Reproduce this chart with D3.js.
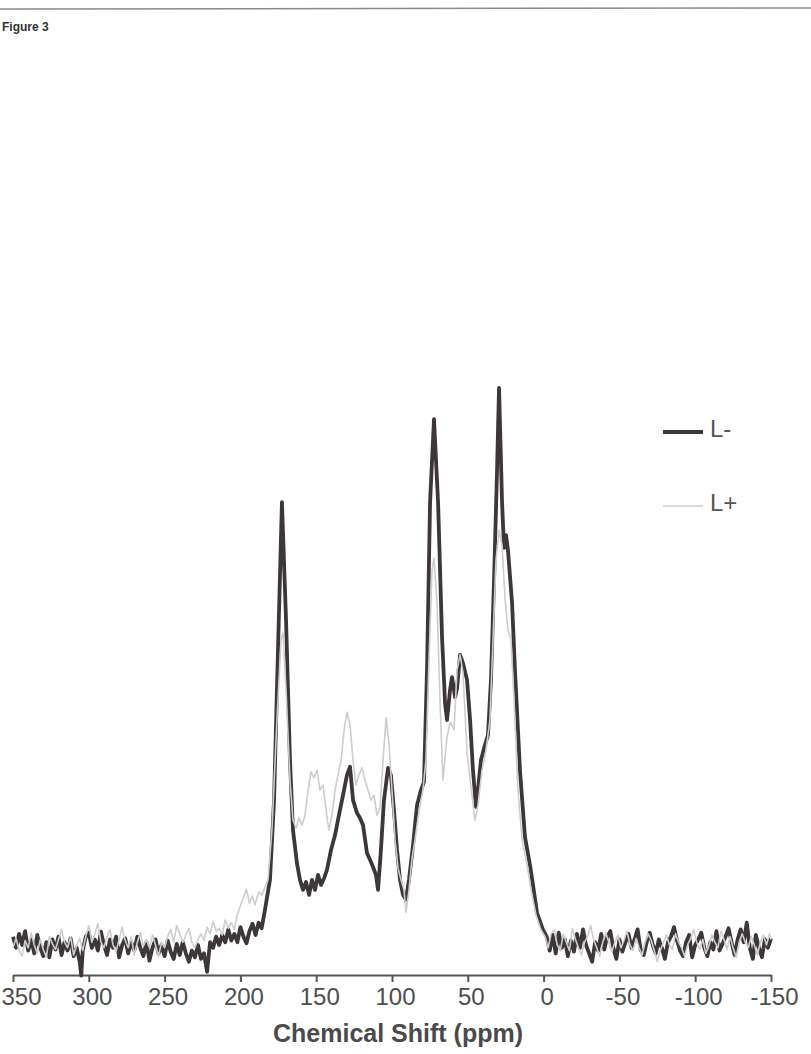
<!DOCTYPE html>
<html>
<head>
<meta charset="utf-8">
<script src="https://cdn.jsdelivr.net/npm/d3@7"></script>
<style>
  body { margin: 0; background: #fff; }
  svg { display: block; }
</style>
</head>
<body>
<div id="chart"></div>
<script>
// [chemical shift (ppm), intensity (a.u., tallest peak = 100)]
var darkSpectrum = [
  [350,1.5],[348,-0.5],[346,2.0],[344,0.0],[342,2.5],[340,-1.0],[338,1.0],[336,-1.5],[334,1.8],[332,-0.5],
  [330,-2.0],[328,0.5],[326,-2.2],[324,1.0],[322,-0.8],[320,1.5],[318,-1.8],[316,0.5],[314,-1.0],[312,1.2],
  [310,-2.0],[308,-0.5],[306,-3.0],[305,-5.5],[304,-1.0],[302,1.5],[300,2.2],[298,-0.5],[296,1.0],[294,-1.0],
  [292,2.4],[290,0.0],[288,-1.8],[286,1.0],[284,-0.5],[282,1.5],[280,-2.2],[278,0.0],[276,1.2],[274,-1.5],
  [272,0.5],[270,-1.0],[268,1.5],[266,-0.5],[264,-2.0],[262,0.5],[260,-2.8],[258,-0.5],[256,1.0],[254,-1.5],
  [252,0.0],[250,-2.0],[248,0.8],[246,-1.2],[244,-2.5],[242,0.2],[240,-1.8],[238,0.5],[236,-1.5],[234,-3.0],
  [232,-1.0],[230,-2.2],[228,0.0],[226,-2.5],[224,-1.5],[222,-4.8],[220,0.5],[218,-0.5],[216,1.5],[214,0.0],
  [212,1.8],[210,0.5],[208,2.8],[206,0.8],[204,2.0],[202,0.5],[200,3.2],[198,1.5],[196,0.3],[194,2.5],
  [192,3.8],[190,1.8],[188,4.0],[186,3.0],
  [183.8,6.3],[180.5,11.7],[177.8,26],[175.2,53],[172.6,79.5],[169.9,58.3],[167.3,33.2],[165.3,20.6],
  [162.7,14.7],[160.7,11.7],[158.7,9.9],[156.7,11.3],[154.7,9.0],[152.8,11.7],[150.8,9.9],[148.8,12.6],
  [146.8,10.8],[144.8,12.0],[142.9,13.5],[140.2,17.1],[137.6,19.7],[135.0,23.3],[132.3,26.9],[129.7,30.5],
  [127.7,32.0],[125.7,26.0],[123.1,23.7],[121.1,22.8],[119.1,21.5],[116.5,16.5],[114.5,15.3],[112.5,14.0],
  [110.6,12.6],[109.2,9.9],[107.3,17.1],[105.3,26.0],[102.6,31.8],[100.7,30.5],[98.7,24.2],[96.7,17.1],
  [94.7,11.7],[92.7,9.0],[90.8,8.1],[88.8,11.7],[86.1,18.0],[83.5,25.1],[80.9,27.8],[78.9,29.3],
  [76.9,49.4],[74.9,79.4],[72.3,94.4],[69.6,79.4],[67.0,55.3],[65.0,43.4],[63.7,40.4],[61.7,45.8],
  [60.4,48.1],[58.4,44.5],[57.1,46.1],[55.1,52.1],[53.2,50.6],[50.5,47.6],[48.5,40.4],[46.6,31.4],
  [44.6,24.8],[43.3,27.8],[41.3,33.2],[38.7,35.9],[36.7,37.7],[34.7,47.6],[32.7,65.5],[30.7,85.3],
  [29.4,100],[27.4,79.4],[26.1,71.3],[24.8,73.6],[23.5,70.9],[20.8,61.4],[18.9,49.4],[15.6,31.4],
  [12.3,19.4],[9.0,14.4],[7.0,10.8],[4.3,5.7],[0.4,2.7],
  [-2,1.5],[-4,-1.0],[-6,1.8],[-8,-1.5],[-10,2.2],[-12,-0.5],[-14,1.0],[-16,-2.0],[-18,0.8],[-20,-1.2],
  [-22,2.0],[-24,-0.5],[-26,2.8],[-28,0.0],[-30,-1.5],[-32,-3.0],[-34,0.5],[-36,-1.0],[-38,2.0],[-40,-0.8],
  [-42,1.5],[-44,2.5],[-46,-0.5],[-48,-2.5],[-50,1.0],[-52,-1.2],[-54,0.5],[-56,2.0],[-58,-0.5],[-60,1.0],
  [-62,2.8],[-64,-0.8],[-66,-1.8],[-68,0.5],[-70,2.2],[-72,0.0],[-74,-1.5],[-76,1.0],[-78,-0.5],[-80,-2.5],
  [-82,0.5],[-84,1.5],[-86,3.2],[-88,0.8],[-90,-1.0],[-92,-2.0],[-94,0.5],[-96,1.8],[-98,-2.2],[-100,0.0],
  [-102,1.0],[-104,2.2],[-106,-0.5],[-108,-2.0],[-110,0.5],[-112,-0.8],[-114,2.5],[-116,-1.0],[-118,0.2],[-120,1.5],
  [-122,3.0],[-124,0.5],[-126,-1.8],[-128,1.0],[-130,2.8],[-132,0.5],[-134,4.0],[-136,-0.5],[-138,-2.5],[-140,1.8],
  [-142,-0.5],[-144,-2.2],[-146,1.0],[-148,-0.5],[-150,1.2]
];

var lightSpectrum = [
  [350,-0.5],[348,1.2],[346,-1.0],[344,-2.0],[342,0.8],[340,-0.5],[338,2.2],[336,0.0],[334,-1.5],[332,1.0],
  [330,-0.8],[328,-2.2],[326,1.5],[324,0.2],[322,-0.8],[320,1.0],[318,2.8],[316,0.5],[314,-0.5],[312,1.5],
  [310,-1.8],[308,0.0],[306,1.2],[304,-1.0],[302,1.5],[300,3.5],[298,0.5],[296,2.0],[294,3.8],[292,0.5],
  [290,-0.5],[288,1.5],[286,2.8],[284,0.0],[282,-1.2],[280,1.0],[278,3.2],[276,0.8],[274,-0.5],[272,1.5],
  [270,-1.8],[268,0.5],[266,2.2],[264,-0.2],[262,1.0],[260,-0.5],[258,1.8],[256,0.0],[254,-2.0],[252,0.5],
  [250,-0.5],[248,1.5],[246,2.8],[244,0.5],[242,3.5],[240,2.0],[238,0.5],[236,1.8],[234,3.0],[232,0.5],
  [230,-0.5],[228,1.0],[226,2.0],[224,0.8],[222,3.2],[220,2.0],[218,4.2],[216,2.5],[214,3.0],[212,1.8],
  [210,4.5],[208,3.0],[206,4.0],[204,2.8],[202,5.5],[200,7.0],[198,8.5],[196,10.0],[194,7.5],[192,8.8],
  [190.4,7.2],[188,9.5],[185.8,9.0],[181.8,11.7],[179.2,20.6],[175.9,40.4],[173.2,54.8],[171.9,56.0],
  [169.9,45.8],[167.3,29.6],[165.3,22.4],[163.3,21.0],[161.3,22.8],[159.4,21.5],[157.4,23.3],[155.4,27.8],
  [153.4,31.1],[151.5,30.0],[149.5,31.4],[147.5,27.8],[145.5,28.7],[143.5,24.2],[141.6,20.6],[139.6,23.3],
  [137.6,27.8],[135.6,30.5],[133.6,33.2],[131.6,38.6],[129.7,41.8],[127.7,39.5],[125.7,33.2],[123.7,28.7],
  [121.8,30.5],[119.8,31.8],[117.8,29.6],[115.8,27.8],[113.9,26.0],[111.9,26.9],[109.9,23.3],[107.9,24.6],
  [105.9,33.2],[103.9,40.8],[101.9,35.9],[100.0,27.8],[98.0,18.9],[96.0,13.8],[94.1,11.7],[92.1,9.9],
  [90.8,5.9],[88.8,9.9],[86.8,15.6],[84.8,18.9],[82.1,24.2],[79.6,27.8],[77.6,33.2],[75.6,51.2],
  [73.6,67.3],[72.3,69.5],[70.3,61.4],[68.3,43.4],[66.4,29.6],[63.7,37.3],[61.7,40.0],[59.1,38.6],
  [57.1,49.4],[55.1,52.1],[53.2,49.0],[50.5,34.5],[47.9,28.4],[45.3,22.4],[43.3,25.1],[40.6,31.4],
  [38.0,35.0],[35.4,40.4],[33.4,54.8],[31.4,69.1],[29.4,74.5],[27.4,71.8],[25.4,61.9],[23.5,56.6],
  [21.5,54.8],[19.5,44.0],[16.9,27.8],[14.2,18.9],[10.9,14.4],[8.3,9.9],[5.0,5.4],[1.7,2.7],
  [-1,1.5],[-3,-0.5],[-5,2.0],[-7,2.8],[-9,0.0],[-11,-1.0],[-13,2.0],[-15,0.5],[-17,-1.0],[-19,3.0],
  [-21,1.0],[-23,-0.5],[-25,-1.8],[-27,0.5],[-29,1.5],[-31,3.5],[-33,1.0],[-35,-0.5],[-37,-2.0],[-39,0.5],
  [-41,2.2],[-43,0.5],[-45,-1.2],[-47,0.5],[-49,1.8],[-51,-0.5],[-53,0.8],[-55,2.5],[-57,0.0],[-59,-1.0],
  [-61,1.2],[-63,-0.5],[-65,-1.8],[-67,0.5],[-69,2.0],[-71,0.8],[-73,-1.0],[-75,-3.0],[-77,-1.0],[-79,0.5],
  [-81,1.8],[-83,0.0],[-85,-0.8],[-87,2.0],[-89,0.5],[-91,-0.5],[-93,-2.0],[-95,0.0],[-97,1.2],[-99,2.8],
  [-101,0.5],[-103,-0.8],[-105,1.0],[-107,-1.5],[-109,-0.2],[-111,1.8],[-113,0.5],[-115,-0.5],[-117,2.5],[-119,1.0],
  [-121,-0.8],[-123,1.5],[-125,-0.5],[-127,-2.2],[-129,0.5],[-131,2.0],[-133,0.5],[-135,-0.5],[-137,1.5],[-139,0.0],
  [-141,-1.8],[-143,0.5],[-145,1.8],[-147,0.0],[-149,2.0],[-150,1.0]
];

var tickValues = [350, 300, 250, 200, 150, 100, 50, 0, -50, -100, -150];
var seriesNames = ["L-", "L+"];
var seriesColors = ["#3e373a", "#cdcdcd"];

function chart(){
  var width = 811, height = 1054;
  var svg = d3.select("#chart").append("svg")
    .attr("width", width)
    .attr("height", height);

  svg.append("rect").attr("width", width).attr("height", height).attr("fill", "#fff");

  // page edge + caption
  svg.append("line")
    .attr("x1", 0).attr("x2", width).attr("y1", 9).attr("y2", 8)
    .attr("stroke", "#8a8a8a").attr("stroke-width", 1.5);
  svg.append("text")
    .attr("x", 2).attr("y", 31)
    .style("font-family", "Liberation Sans, Arial, sans-serif")
    .style("font-size", "12px")
    .style("font-weight", "bold")
    .attr("fill", "#333")
    .text("Figure 3");

  var x = d3.scaleLinear().domain([350, -150]).range([13, 771]);
  var y = d3.scaleLinear().domain([0, 100]).range([945, 388]);

  // x axis
  var axis = svg.append("g")
    .attr("transform", "translate(0,975)")
    .call(d3.axisBottom(x).tickValues(tickValues).tickSize(7).tickSizeOuter(0)
      .tickFormat(function(d){ return String(d); }));
  axis.select(".domain").attr("stroke", "#555").attr("stroke-width", 2);
  axis.selectAll(".tick line").attr("stroke", "#555").attr("stroke-width", 2);
  axis.selectAll(".tick text")
    .attr("y", 13)
    .attr("dx", 3)
    .attr("fill", "#4d4d4d")
    .style("font-family", "Liberation Sans, Arial, sans-serif")
    .style("font-size", "24px");
  // first label sits against the left page edge
  axis.selectAll(".tick text")
    .filter(function(d){ return d == 350; })
    .attr("text-anchor", "start")
    .attr("dx", 0)
    .attr("x", -12);

  svg.append("text")
    .attr("x", 398).attr("y", 1042)
    .attr("text-anchor", "middle")
    .style("font-family", "Liberation Sans, Arial, sans-serif")
    .style("font-size", "25px")
    .style("font-weight", "bold")
    .attr("fill", "#4a4a4a")
    .text("Chemical Shift (ppm)");

  var line = d3.line()
    .x(function(d){ return x(d[0]); })
    .y(function(d){ return y(d[1]); });

  svg.append("path").datum(darkSpectrum)
    .attr("d", line)
    .attr("fill", "none")
    .attr("stroke", seriesColors[0])
    .attr("stroke-width", 3.8)
    .attr("stroke-linejoin", "round");

  svg.append("path").datum(lightSpectrum)
    .attr("d", line)
    .attr("fill", "none")
    .attr("stroke", seriesColors[1])
    .attr("stroke-width", 1.6)
    .attr("stroke-linejoin", "round");

  // legend
  var legend = svg.selectAll(".legend")
    .data(seriesNames)
    .enter().append("g")
    .attr("transform", function(d, i){ return "translate(663," + (432 + i * 74) + ")"; });
  legend.append("line")
    .attr("x1", 0).attr("x2", 40)
    .attr("stroke", function(d, i){ return seriesColors[i]; })
    .attr("stroke-width", function(d, i){ return i == 0 ? 4 : 1.6; });
  legend.append("text")
    .attr("x", 47).attr("y", 5)
    .attr("fill", "#555")
    .style("font-family", "Liberation Sans, Arial, sans-serif")
    .style("font-size", "24px")
    .text(function(d){ return d; });
}

chart();
</script>
</body>
</html>
